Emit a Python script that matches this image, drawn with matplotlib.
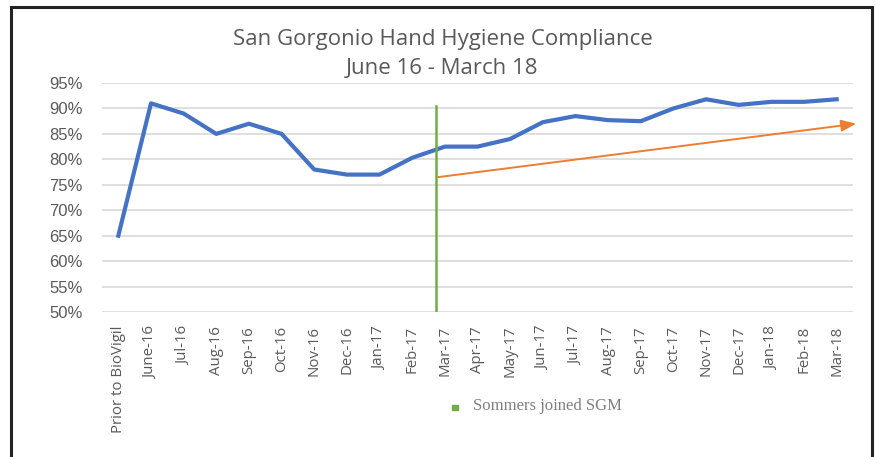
import matplotlib.pyplot as plt
from matplotlib.patches import Rectangle

# monthly hand hygiene compliance (%)
months = ["Prior to BioVigil", "June-16", "Jul-16", "Aug-16", "Sep-16", "Oct-16",
          "Nov-16", "Dec-16", "Jan-17", "Feb-17", "Mar-17", "Apr-17", "May-17",
          "Jun-17", "Jul-17", "Aug-17", "Sep-17", "Oct-17", "Nov-17", "Dec-17",
          "Jan-18", "Feb-18", "Mar-18"]
compliance = [65, 91, 89, 85, 87, 85, 78, 77, 77, 80.3, 82.5, 82.5, 84, 87.3,
              88.5, 87.7, 87.5, 90, 91.8, 90.7, 91.3, 91.3, 91.8]

# marker for when Sommers joined, and the trend arrow after it
joined_x = 9.73
joined_top = 90.5
trend_x = [9.79, 22.6]
trend_y = [76.5, 87.0]

yticks = list(range(50, 96, 5))

gray = "#595959"

fig = plt.figure(figsize=(8.76, 4.57), dpi=100)
ax = fig.add_axes([102 / 876, 1 - 312 / 457, 751 / 876, 229 / 457])

x = list(range(len(months)))
ax.plot(x, compliance, color="#4472C4", lw=3.0, solid_joinstyle="round", zorder=3)

ax.plot([joined_x, joined_x], [50, joined_top], color="#70AD47", lw=1.8, zorder=4)

ax.annotate("", xy=(trend_x[1], trend_y[1]), xytext=(trend_x[0], trend_y[0]),
            arrowprops=dict(arrowstyle="-|>,head_length=0.9,head_width=0.35",
                            color="#ED7D31", lw=1.4, shrinkA=0, shrinkB=0),
            annotation_clip=False, zorder=3)

ax.set_xlim(-0.5, len(months) - 0.5)
ax.set_ylim(50, 95)
ax.set_yticks(yticks)
ax.set_yticklabels([f"{v}%" for v in yticks], fontsize=12,
                   family="Liberation Sans", color=gray)
ax.set_xticks(x)
ax.set_xticklabels(months, rotation=90, fontsize=10.8, family="Open Sans", color=gray)
ax.tick_params(length=0, pad=10)
ax.tick_params(axis="y", pad=14)
ax.yaxis.grid(True, color="#d9d9d9", lw=1.2)
ax.set_axisbelow(True)
for s in ax.spines.values():
    s.set_visible(False)

fig.text(0.505, 1 - 54 / 457, "San Gorgonio Hand Hygiene Compliance\nJune 16 - March 18",
         ha="center", va="center", fontsize=16, family="Open Sans", color=gray,
         linespacing=1.5)

# legend entry
fig.patches.append(Rectangle((452 / 876, 1 - 410 / 457), 6 / 876, 5 / 457,
                             transform=fig.transFigure, color="#70AD47"))
fig.text(473 / 876, 1 - 406 / 457, "Sommers joined SGM", fontsize=12,
         family="Liberation Serif", color="#7f7f7f", va="center")

# outer frame
fig.patches.append(Rectangle((11 / 876, -0.05), 861 / 876, 1.05 - 6.5 / 457,
                             transform=fig.transFigure, fill=False,
                             edgecolor="#222222", lw=2.2))

fig.savefig("out.png", dpi=100)
